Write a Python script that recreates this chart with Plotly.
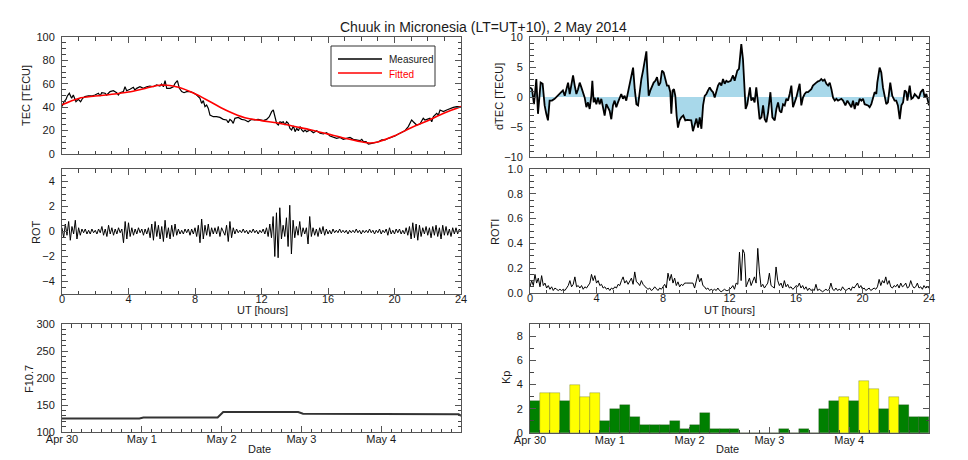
import plotly.graph_objects as go

# ---------------- DATA ----------------
# Panel 1: TEC (measured, fitted) vs UT hours
tec_ut = [0.0, 0.12, 0.24, 0.32, 0.44, 0.58, 0.68, 0.84, 0.98, 1.12, 1.24, 1.38, 1.58, 1.78, 1.98,
          2.19, 2.29, 2.39, 2.59, 2.69, 2.89, 3.09, 3.29, 3.39, 3.49, 3.69, 3.79, 3.89, 4.09, 4.29,
          4.39, 4.49, 4.69, 4.89, 5.09, 5.29, 5.49, 5.69, 5.89, 5.99, 6.10, 6.20, 6.30, 6.50, 6.70,
          6.80, 6.94, 7.06, 7.20, 7.34, 7.50, 7.70, 7.90, 8.10, 8.30, 8.40, 8.50, 8.60, 8.70, 8.80,
          8.90, 9.10, 9.30, 9.50, 9.70, 9.90, 10.0, 10.1, 10.2, 10.3, 10.4, 10.6, 10.8, 11.0, 11.2,
          11.4, 11.6, 11.8, 12.11, 12.31, 12.47, 12.61, 12.71, 12.81, 12.91, 13.01, 13.11, 13.21, 13.31,
          13.41, 13.51, 13.61, 13.71, 13.81, 13.92, 14.02, 14.12, 14.22, 14.32, 14.42, 14.52, 14.62, 14.72,
          14.92, 15.12, 15.32, 15.52, 15.72, 15.92, 16.12, 16.32, 16.52, 16.72, 16.92, 17.12, 17.32, 17.52,
          17.72, 17.93, 18.03, 18.13, 18.29, 18.43, 18.63, 18.83, 19.03, 19.23, 19.43, 19.63, 19.83, 20.03,
          20.23, 20.43, 20.63, 20.83, 20.93, 21.03, 21.13, 21.23, 21.33, 21.53, 21.73, 21.83, 21.93, 22.13,
          22.24, 22.34, 22.54, 22.64, 22.74, 22.94, 23.14, 23.34, 23.54, 23.74, 23.94, 24.0]
tec_measured = [40.5, 44.7, 46.7, 49.6, 51.9, 47.6, 50.4, 44.7, 46.7, 44.7, 47.6, 49.0, 49.6, 49.6, 50.4,
                51.9, 49.6, 52.4, 51.9, 50.4, 53.3, 54.1, 52.4, 50.4, 52.4, 53.3, 57.5, 54.1, 55.3, 57.0,
                54.7, 56.1, 57.5, 56.1, 57.5, 58.1, 57.5, 59.0, 58.1, 59.8, 57.5, 62.7, 56.1, 56.1, 57.5,
                60.4, 62.7, 56.1, 53.3, 52.4, 53.3, 53.3, 52.4, 50.4, 47.6, 43.3, 45.6, 40.5, 41.9, 39.0,
                33.3, 31.9, 31.9, 31.3, 29.6, 29.1, 26.8, 29.6, 28.5, 26.2, 30.5, 31.3, 29.6, 29.1, 27.6,
                29.6, 29.1, 29.6, 28.5, 29.6, 31.9, 36.2, 37.6, 31.9, 26.2, 24.8, 27.6, 26.8, 27.6,
                24.8, 27.6, 26.2, 21.9, 20.5, 23.9, 19.1, 21.9, 19.9, 23.4, 20.5, 19.1, 20.5, 19.1,
                20.5, 18.2, 19.9, 17.7, 17.1, 18.2, 15.4, 14.2, 13.4, 14.2, 12.5, 13.4, 14.2, 12.5,
                12.0, 11.4, 12.5, 10.5, 10.5, 8.5, 9.1, 9.7, 10.5, 12.0, 12.0, 13.4, 14.2, 15.4,
                17.1, 18.2, 19.9, 23.4, 26.2, 29.1, 27.6, 26.2, 24.8, 25.6, 30.5, 29.1, 29.6, 30.5,
                27.6, 31.9, 34.8, 33.3, 37.6, 36.2, 37.6, 39.0, 39.9, 40.5, 40.5, 40.5]
fit_ut = [0, 1, 2, 3, 4, 5, 6, 7, 8, 9, 10, 11, 12, 13, 14, 15, 16, 17, 18, 18.5, 19, 20, 21, 22, 23, 24]
tec_fitted = [42, 47.5, 49.5, 51, 53, 56, 59, 57, 51.5, 44, 36.5, 31, 28.5, 26.5, 23.5, 20.5, 17, 13.5,
              10.5, 9.4, 10.3, 15.5, 22.5, 28.5, 35, 40.5]

# Panel 2: dTEC vs UT hours
dtec_ut = [0.00, 0.12, 0.24, 0.32, 0.38, 0.48, 0.58, 0.64, 0.76, 0.88,
           0.98, 1.08, 1.18, 1.32, 1.48, 1.68, 1.88, 1.98, 2.09, 2.29,
           2.39, 2.59, 2.69, 2.79, 2.89, 2.99, 3.09, 3.29, 3.39, 3.49,
           3.59, 3.69, 3.75, 3.83, 3.89, 3.99, 4.09, 4.19, 4.29, 4.39,
           4.49, 4.59, 4.69, 4.79, 4.89, 4.99, 5.09, 5.19, 5.29, 5.39,
           5.49, 5.59, 5.69, 5.79, 5.89, 5.99, 6.10, 6.20, 6.30, 6.40,
           6.50, 6.60, 6.70, 6.80, 6.90, 7.00, 7.06, 7.14, 7.24, 7.34,
           7.44, 7.54, 7.64, 7.74, 7.84, 7.94, 8.04, 8.14, 8.24, 8.34,
           8.44, 8.50, 8.58, 8.66, 8.74, 8.82, 8.90, 9.00, 9.10, 9.22,
           9.34, 9.46, 9.58, 9.70, 9.80, 9.90, 10.01, 10.11, 10.21, 10.31,
           10.41, 10.51, 10.61, 10.71, 10.81, 10.91, 11.01, 11.11, 11.21, 11.31,
           11.41, 11.51, 11.61, 11.71, 11.81, 11.91,
           12.07, 12.21, 12.31, 12.47, 12.57, 12.71, 12.81, 12.87, 12.97, 13.07,
           13.15, 13.23, 13.31, 13.41, 13.51, 13.61, 13.71, 13.81, 13.92, 14.02,
           14.12, 14.22, 14.32, 14.46, 14.58, 14.72, 14.82, 14.92, 15.02, 15.12,
           15.22, 15.32, 15.42, 15.52, 15.62, 15.72, 15.82, 15.92, 16.02, 16.12,
           16.22, 16.32, 16.42, 16.52, 16.62, 16.72, 16.82, 16.92, 17.02, 17.12,
           17.22, 17.32, 17.42, 17.52, 17.62, 17.72, 17.83, 17.93, 18.03, 18.13,
           18.23, 18.33, 18.43, 18.53, 18.73, 18.83, 18.97, 19.09, 19.23, 19.33,
           19.43, 19.53, 19.63, 19.73, 19.83, 19.93, 20.03, 20.13, 20.33, 20.43,
           20.53, 20.65, 20.73, 20.83, 20.89, 21.03, 21.13, 21.23, 21.33, 21.43,
           21.53, 21.67, 21.79, 21.93, 22.03, 22.13, 22.24, 22.34, 22.44, 22.54,
           22.64, 22.70, 22.84, 22.94, 23.04, 23.14, 23.24, 23.38, 23.50, 23.64,
           23.74, 23.84, 24.00]
dtec_val = [1.6, 1.3, -1.2, 1.3, 3.0, -2.8, 0.8, 2.4, 2.2, -1.4,
            -2.8, -3.9, -0.6, -0.6, -0.3, 0.2, 0.8, 1.1, 0.2, 2.4,
            0.5, 3.6, 1.9, 0.5, 1.3, 2.4, 1.6, -0.1, -1.7, -0.9,
            -2.0, 0.2, 2.7, -0.9, -0.1, -1.2, -0.1, -1.2, -0.3, -2.0,
            -3.1, -1.2, -1.7, -2.3, -3.7, -1.4, -0.6, -1.7, -0.9, -0.3,
            0.5, -0.3, 0.2, -0.6, 0.8, 2.2, 3.6, 4.9, 1.3, -1.2,
            -1.4, 1.1, 3.0, 4.4, 6.3, 7.6, 4.1, 0.2, 1.1, 1.9,
            2.4, 2.7, 3.3, 1.9, 2.4, 4.4, 4.1, 3.0, 1.9, 1.9,
            0.8, -2.8, 1.1, 1.3, 0.2, -3.1, -5.1, -3.9, -3.4, -3.1,
            -3.9, -3.8, -3.8, -3.9, -5.7, -4.5, -3.6, -5.1, -3.4, -5.3,
            -1.4, 0.2, 0.5, 1.1, 1.6, 1.1, 0.8, -0.1, 1.1, 1.9,
            2.4, 1.9, 3.0, 2.2, 2.7, 2.5,
            2.7, 3.6, 2.7, 4.4, 4.7, 8.8, 6.3, 2.4, -2.0, -1.2,
            -0.1, 1.6, -0.6, -0.1, -0.9, 1.6, -0.9, -3.7, -3.4, -1.4,
            -3.7, -4.2, -2.6, 0.8, -3.4, -3.9, -2.0, -0.9, -2.3, -2.6,
            -1.2, -1.4, -0.3, -0.6, 0.5, 1.9, -1.7, -0.9, -0.1, 1.1,
            2.2, -1.4, -0.1, 0.5, 0.8, 0.8, 1.1, 1.3, 1.9, 2.2,
            2.4, 2.6, 2.7, 3.0, 2.7, 2.9, 2.2, 1.9, 2.4, 1.3,
            -0.1, -0.6, -0.3, -0.6, -0.3, -0.6, -1.4, -0.6, -1.2, -1.7,
            -0.6, -2.0, -0.9, -1.4, -0.3, -0.6, -0.3, -1.2, -1.4, -1.7,
            -1.2, -0.1, 0.8, 0.5, 2.4, 4.9, 4.1, 1.6, -0.1, -1.2,
            -0.9, 2.4, 0.2, -0.6, -0.6, -1.4, -3.7, -1.4, -0.9, 1.1,
            0.8, -0.6, 1.9, -0.3, -0.1, 0.5, 0.2, -0.3, 0.8, 1.3,
            -0.1, 0.5, -1.4]

# Panels 3/4: ROT and ROTI, sampled every 0.1 h from 0 to 24 UT
rot_val = [0.3, -0.5, 0.6, -0.3, 0.8, -0.7, 0.4, -0.2, 0.9, -0.6,
           0.3, -0.3, 0.2, -0.1, 0.2, -0.2, 0.1, -0.2, 0.2, -0.1,
           0.1, -0.2, 0.2, -0.1, 0.4, -0.3, 0.2, -0.4, 0.5, -0.2,
           0.3, -0.3, 0.2, -0.2, 0.3, -0.1, 0.2, -0.9, 0.8, -0.6,
           0.7, -0.4, 0.3, -0.3, 0.2, -0.2, 0.3, -0.1, 0.2, -0.3,
           0.2, -0.2, 0.3, -0.5, 0.6, -0.7, 0.8, -0.4, 0.5, -0.6,
           0.4, -0.8, 0.9, -0.5, 0.3, -0.6, 0.5, -0.4, 0.6, -0.3,
           0.2, -0.2, 0.1, -0.2, 0.2, -0.1, 0.2, -0.3, 0.2, -0.2,
           0.3, -0.4, 0.5, -0.9, 1.0, -0.6, 0.5, -0.3, 0.6, -0.4,
           0.3, -0.2, 0.3, -0.2, 0.4, -0.4, 0.3, 0.0, -0.3, 0.5,
           -0.8, 0.8, -0.5, 0.3, -0.2, 0.2, -0.1, 0.1, -0.1, 0.2,
           -0.1, 0.1, -0.2, 0.1, -0.1, 0.2, -0.1, 0.1, -0.2, 0.1,
           -0.1, 0.2, -0.2, 0.3, -0.4, 0.6, -0.5, 1.2, -2.0, 1.5,
           -2.1, 1.9, -0.6, 0.5, -0.4, 1.1, -1.2, 2.1, -1.8, 0.9,
           -0.5, 0.4, -0.3, 0.8, -0.4, 0.3, -0.2, 0.3, -1.0, 1.2,
           -0.4, 0.3, -0.3, 0.2, -0.4, 0.3, -0.2, 0.4, -0.3, 0.2,
           -0.2, 0.1, -0.2, 0.2, -0.1, 0.1, -0.1, 0.2, -0.1, 0.1,
           -0.1, 0.1, -0.2, 0.1, -0.1, 0.1, -0.1, 0.2, -0.1, 0.1,
           -0.2, 0.1, -0.1, 0.1, -0.1, 0.2, -0.1, 0.1, -0.2, 0.1,
           -0.1, 0.2, -0.2, 0.1, -0.1, 0.2, -0.3, 0.3, -0.2, 0.1,
           -0.2, 0.2, -0.1, 0.2, -0.2, 0.1, -0.2, 0.3, -0.3, 0.4,
           -0.6, 0.7, -0.5, 0.6, -0.7, 0.5, -0.4, 0.3, -0.2, 0.4,
           -0.3, 0.3, -0.5, 0.4, -0.3, 0.5, -0.4, 0.3, -0.6, 0.5,
           -0.3, 0.4, -0.3, 0.2, -0.4, 0.3, -0.2, 0.3, -0.2, 0.2,
           0.0]
roti_val = [0.05, 0.10, 0.06, 0.15, 0.08, 0.12, 0.05, 0.14, 0.06, 0.08,
            0.04, 0.06, 0.03, 0.05, 0.02, 0.04, 0.03, 0.02, 0.03, 0.02,
            0.03, 0.02, 0.04, 0.06, 0.10, 0.05, 0.07, 0.13, 0.05, 0.06,
            0.04, 0.06, 0.03, 0.05, 0.04, 0.06, 0.08, 0.15, 0.10, 0.14,
            0.08, 0.10, 0.06, 0.07, 0.04, 0.05, 0.03, 0.04, 0.02, 0.04,
            0.03, 0.05, 0.04, 0.07, 0.06, 0.10, 0.13, 0.08, 0.10, 0.07,
            0.09, 0.12, 0.07, 0.17, 0.09, 0.08, 0.06, 0.10, 0.07, 0.05,
            0.04, 0.03, 0.04, 0.02, 0.03, 0.05, 0.03, 0.02, 0.04, 0.03,
            0.05, 0.07, 0.04, 0.16, 0.10, 0.15, 0.08, 0.12, 0.06, 0.09,
            0.05, 0.07, 0.06, 0.08, 0.08, 0.08, 0.08, 0.08, 0.08, 0.04,
            0.10, 0.15, 0.09, 0.12, 0.06, 0.05, 0.03, 0.04, 0.02, 0.03,
            0.02, 0.03, 0.02, 0.04, 0.02, 0.01, 0.02, 0.03, 0.02, 0.02,
            0.03, 0.04, 0.06, 0.03, 0.08, 0.07, 0.33, 0.10, 0.35, 0.32,
            0.05, 0.08, 0.12, 0.06, 0.10, 0.13, 0.08, 0.36, 0.17, 0.05,
            0.07, 0.04, 0.06, 0.08, 0.16, 0.06, 0.05, 0.04, 0.21, 0.10,
            0.06, 0.08, 0.04, 0.10, 0.05, 0.07, 0.04, 0.05, 0.03, 0.04,
            0.06, 0.05, 0.08, 0.04, 0.06, 0.03, 0.05, 0.02, 0.04, 0.02,
            0.03, 0.02, 0.07, 0.02, 0.03, 0.02, 0.01, 0.02, 0.03, 0.02,
            0.03, 0.08, 0.03, 0.02, 0.04, 0.02, 0.03, 0.02, 0.05, 0.03,
            0.02, 0.03, 0.04, 0.02, 0.05, 0.04, 0.06, 0.08, 0.04, 0.06,
            0.03, 0.04, 0.02, 0.03, 0.04, 0.02, 0.03, 0.04, 0.03, 0.05,
            0.11, 0.06, 0.10, 0.08, 0.13, 0.07, 0.10, 0.05, 0.04, 0.06,
            0.05, 0.07, 0.04, 0.08, 0.05, 0.06, 0.08, 0.04, 0.05, 0.10,
            0.06, 0.04, 0.05, 0.08, 0.04, 0.05, 0.03, 0.06, 0.04, 0.05,
            0.04]
rot_ut = [round(i * 0.1, 1) for i in range(len(rot_val))]

# Panel 5: F10.7 (days since Apr 30 00 UT)
f107_day = [0.0, 0.97, 1.02, 1.95, 2.02, 2.96, 3.02, 3.96, 4.02, 4.97, 5.0]
f107_val = [125, 125, 127, 127, 137, 137, 134, 134, 133, 133, 130]
date_labels = ["Apr 30", "May 1", "May 2", "May 3", "May 4"]

# Panel 6: Kp, 3-hourly, Apr 30 - May 4
kp_val = [2.67, 3.33, 3.33, 2.67, 4.0, 3.0, 3.33, 1.0,
          2.0, 2.33, 1.33, 0.67, 0.67, 0.67, 1.0, 0.33,
          0.67, 1.67, 0.33, 0.33, 0.33, 0.0, 0.0, 0.0,
          0.0, 0.33, 0.0, 0.33, 0.0, 2.0, 2.67, 3.0,
          2.67, 4.33, 3.67, 2.0, 3.0, 2.33, 1.33, 1.33]
kp_day = [(i + 0.5) / 8 for i in range(len(kp_val))]
kp_colors = ["#ffff00" if k >= 3 else "#008000" for k in kp_val]

# ---------------- LAYOUT HELPERS ----------------
# The page body adds an 8 px margin, so the figure is drawn at (8, 8).
OFF = 8
W, H = 968 - OFF, 460 - OFF
FONT = "Liberation Sans, Arial, Helvetica, sans-serif"
AXC = "#555555"
TXT = "#1a1a1a"


def hx(x):
    return (x - OFF) / W


def vy(y):
    return 1 - (y - OFF) / H


LEFT = [hx(62), hx(461)]
RIGHT = [hx(530), hx(929)]


def axis(domain, anchor, rng, dtick, minor_dtick, tick0=0, labels=True,
         tickvals=None, ticktext=None, fmt=None, standoff=-3):
    d = dict(domain=domain, anchor=anchor, range=rng, automargin=False, showline=True,
             linecolor=AXC, linewidth=1, mirror="ticks", ticks="inside", ticklen=6,
             tickwidth=1, tickcolor=AXC, showgrid=False, zeroline=False,
             showticklabels=labels, tickfont=dict(family=FONT, size=11, color=TXT),
             ticklabelstandoff=standoff,
             minor=dict(ticks="inside", ticklen=3.5, tickwidth=1, tickcolor="#444444",
                        tickmode="linear", tick0=tick0, dtick=minor_dtick, showgrid=False))
    if tickvals is not None:
        d.update(tickmode="array", tickvals=tickvals, ticktext=ticktext)
    else:
        d.update(tickmode="linear", tick0=tick0, dtick=dtick)
    if fmt:
        d["tickformat"] = fmt
    return d


fig = go.Figure()

fig.add_trace(go.Scatter(x=tec_ut, y=tec_measured, mode="lines", name="Measured",
                         line=dict(color="black", width=1.2), xaxis="x", yaxis="y"))
fig.add_trace(go.Scatter(x=fit_ut, y=tec_fitted, mode="lines", name="Fitted",
                         line=dict(color="#ff0000", width=1.6, shape="spline"),
                         xaxis="x", yaxis="y"))
fig.add_trace(go.Scatter(x=dtec_ut, y=dtec_val, mode="lines", fill="tozeroy",
                         fillcolor="#a8d8ea", line=dict(color="black", width=1.8),
                         xaxis="x2", yaxis="y2"))
fig.add_trace(go.Scatter(x=rot_ut, y=rot_val, mode="lines",
                         line=dict(color="black", width=1), xaxis="x3", yaxis="y3"))
fig.add_trace(go.Scatter(x=rot_ut, y=roti_val, mode="lines",
                         line=dict(color="black", width=1), xaxis="x4", yaxis="y4"))
fig.add_trace(go.Scatter(x=f107_day, y=f107_val, mode="lines",
                         line=dict(color="#333333", width=2), xaxis="x5", yaxis="y5"))
fig.add_trace(go.Bar(x=kp_day, y=kp_val, width=0.125,
                     marker=dict(color=kp_colors, line=dict(color="rgba(30,50,20,0.5)", width=0.5)),
                     xaxis="x6", yaxis="y6"))

day_ticks = list(range(len(date_labels)))

fig.update_layout(
    width=W, height=H, margin=dict(l=0, r=0, t=0, b=0, autoexpand=False),
    paper_bgcolor="white", plot_bgcolor="white", showlegend=False, bargap=0,
    font=dict(family=FONT, size=11, color=TXT),
    xaxis=axis(LEFT, "y", [0, 24], 4, 1, labels=False),
    yaxis=axis([vy(154), vy(37)], "x", [0, 100], 20, 5, standoff=4),
    xaxis2=axis(RIGHT, "y2", [0, 24], 4, 1, labels=False),
    yaxis2=axis([vy(157), vy(37)], "x2", [-10, 10], 5, 1, tick0=-10, standoff=4),
    xaxis3=axis(LEFT, "y3", [0, 24], 4, 1, standoff=-5),
    yaxis3=axis([vy(294), vy(169)], "x3", [-5, 5], 2, 0.5, standoff=4),
    xaxis4=axis(RIGHT, "y4", [0, 24], 4, 1, standoff=-5),
    yaxis4=axis([vy(293), vy(169)], "x4", [0, 1], 0.2, 0.05, fmt=".1f", standoff=4),
    xaxis5=axis(LEFT, "y5", [0, 5], 1, 0.125, tickvals=day_ticks, ticktext=date_labels,
                standoff=-3),
    yaxis5=axis([vy(432), vy(324)], "x5", [100, 300], 50, 10, tick0=100, standoff=4),
    xaxis6=axis(RIGHT, "y6", [0, 5], 1, 0.125, tickvals=day_ticks, ticktext=date_labels,
                standoff=-3),
    yaxis6=axis([vy(433), vy(324)], "x6", [0, 9], 2, 1, standoff=4),
)

ann = []


def text(x, y, s, size=11, angle=0, color=TXT, xanchor="center"):
    ann.append(dict(x=hx(x), y=vy(y), xref="paper", yref="paper", text=s, showarrow=False,
                    textangle=angle, xanchor=xanchor, yanchor="middle",
                    font=dict(family=FONT, size=size, color=color)))


text(483, 27, "Chuuk in Micronesia (LT=UT+10), 2 May 2014", size=14)
text(26, 96, "TEC [TECU]", angle=-90)
text(36, 232, "ROT", angle=-90)
text(29, 379, "F10.7", angle=-90)
text(499, 97, "dTEC [TECU]", angle=-90)
text(495, 232, "ROTI", angle=-90)
text(506, 378, "Kp", angle=-90)
text(262, 310, "UT [hours]")
text(729, 310, "UT [hours]")
text(259, 449, "Date")
text(727, 449, "Date")
# legend box texts
text(387, 60, "Measured", size=10, xanchor="left")
text(387, 74, "Fitted", size=10, color="#ff0000", xanchor="left")

shapes = [
    dict(type="rect", xref="paper", yref="paper", x0=hx(331), x1=hx(435), y0=vy(86), y1=vy(46),
         line=dict(color="#333333", width=1), fillcolor="white", layer="above"),
    dict(type="line", xref="paper", yref="paper", x0=hx(338), x1=hx(382), y0=vy(59), y1=vy(59),
         line=dict(color="black", width=1.4)),
    dict(type="line", xref="paper", yref="paper", x0=hx(338), x1=hx(382), y0=vy(73), y1=vy(73),
         line=dict(color="#ff0000", width=1.6)),
]

fig.update_layout(annotations=ann, shapes=shapes)
fig.write_html("out.html")
